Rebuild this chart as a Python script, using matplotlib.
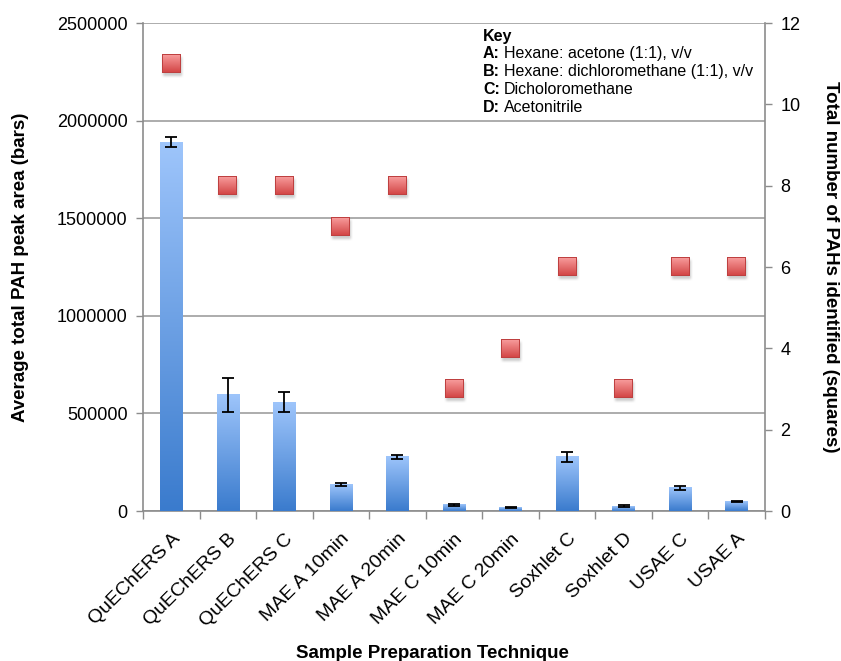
import numpy as np
import matplotlib
matplotlib.use("Agg")
import matplotlib.pyplot as plt
from matplotlib.colors import LinearSegmentedColormap, to_rgb
from matplotlib.offsetbox import OffsetImage, AnnotationBbox

plt.rcParams['font.family'] = ['Liberation Sans', 'DejaVu Sans']

categories = ["QuEChERS A", "QuEChERS B", "QuEChERS C", "MAE A 10min", "MAE A 20min",
              "MAE C 10min", "MAE C 20min", "Soxhlet C", "Soxhlet D", "USAE C", "USAE A"]
peak_area = [1890000, 595000, 558000, 138000, 277000, 31000, 20000, 277000, 25000, 118000, 50000]
peak_err = [25000, 87000, 50000, 8000, 12000, 3000, 3000, 25000, 7000, 10000, 3000]
n_pahs = [11, 8, 8, 7, 8, 3, 4, 6, 3, 6, 6]
left_ticks = [0, 500000, 1000000, 1500000, 2000000, 2500000]
right_ticks = [0, 2, 4, 6, 8, 10, 12]

fig = plt.figure(figsize=(8.41, 6.61), dpi=100)
ax = fig.add_axes([143/841, 1-511/661, (765-143)/841, (511-23)/661])

x = np.arange(len(categories))
w = 0.40
cmap = LinearSegmentedColormap.from_list("bar", ["#3A7BCD", "#9EC5FB"])
grad = np.linspace(0, 1, 256).reshape(-1, 1)
for xi, h in zip(x, peak_area):
    ax.imshow(grad, extent=(xi - w/2, xi + w/2, 0, h), origin='lower', cmap=cmap,
              aspect='auto', zorder=3, interpolation='bilinear')
ax.errorbar(x, peak_area, yerr=peak_err, fmt='none', ecolor='black', elinewidth=1.3,
            capsize=4, capthick=1.3, zorder=4)

ax.set_xlim(-0.5, len(categories) - 0.5)
ax.set_ylim(0, 2500000)
ax.set_yticks(left_ticks)
ax.set_yticklabels([str(t) for t in left_ticks], fontsize=13)
ax.yaxis.grid(True, color='#A6A6A6', linewidth=1.3, zorder=0)
ax.set_axisbelow(True)
ax.set_xticks(x)
ax.set_xticklabels(categories, rotation=45, ha='right', rotation_mode='anchor', fontsize=14)
ax.tick_params(axis='x', length=0, pad=14)
ax.set_xticks(np.arange(-0.5, len(categories), 1), minor=True)
ax.tick_params(axis='x', which='minor', length=6, color='#8C8C8C', width=1)
ax.tick_params(axis='y', length=5, color='#8C8C8C', width=1, pad=6)
for s in ['left', 'bottom', 'right']:
    ax.spines[s].set_color('#8C8C8C')
    ax.spines[s].set_linewidth(1.2)
ax.spines['top'].set_visible(False)

ax.set_ylabel("Average total PAH peak area (bars)", fontsize=13.5, fontweight='bold', labelpad=20)
ax.set_xlabel("Sample Preparation Technique", fontsize=13.5, fontweight='bold', va='center')
ax.xaxis.set_label_coords((432 - 143) / 622, (511 - 653) / 488)

ax2 = ax.twinx()
ax2.set_ylim(0, 12)
ax2.set_yticks(right_ticks)
ax2.set_yticklabels([str(t) for t in right_ticks], fontsize=13)
ax2.tick_params(axis='y', length=5, color='#8C8C8C', width=1, pad=6)
for s in ['left', 'bottom', 'right', 'top']:
    ax2.spines[s].set_visible(False)
ax2.set_ylabel("Total number of PAHs identified (squares)", fontsize=13.5, fontweight='bold',
               rotation=-90, labelpad=28)

# square marker image with vertical gradient, border and soft shadow
S, P = 19, 5
N = S + 2 * P
img = np.zeros((N, N, 4))
shadow = np.zeros((N, N))
shadow[P + 3:P + 3 + S, P + 1:P + 1 + S] = 1.0
k = np.array([1, 2, 3, 2, 1], float); k /= k.sum()
shadow = np.apply_along_axis(lambda r: np.convolve(r, k, mode='same'), 0, shadow)
shadow = np.apply_along_axis(lambda r: np.convolve(r, k, mode='same'), 1, shadow)
img[..., 0:3] = 0.55
img[..., 3] = shadow * 0.45
top = np.array(to_rgb('#F89C9C'))
bot = np.array(to_rgb('#D24444'))
edge = np.array(to_rgb('#BE4040'))
for r in range(S):
    t = r / (S - 1)
    img[P + r, P:P + S, :3] = top * (1 - t) + bot * t
    img[P + r, P:P + S, 3] = 1.0
img[P, P:P + S, :3] = edge
img[P + S - 1, P:P + S, :3] = edge
img[P:P + S, P, :3] = edge
img[P:P + S, P + S - 1, :3] = edge
for xi, n in zip(x, n_pahs):
    ab = AnnotationBbox(OffsetImage(img, zoom=1, dpi_cor=False, interpolation='nearest'),
                        (xi, n), xycoords='data', frameon=False, pad=0, zorder=5)
    ax2.add_artist(ab)

key_lines = [("Key", ""), ("A:", "Hexane: acetone (1:1), v/v"),
             ("B:", "Hexane: dichloromethane (1:1), v/v"),
             ("C:", "Dicholoromethane"), ("D:", "Acetonitrile")]
fig.canvas.draw()
renderer = fig.canvas.get_renderer()
y0 = 36
for i, (b, t) in enumerate(key_lines):
    yy = y0 + i * 17.8
    txt = fig.text(483/841, 1 - yy/661, b, fontsize=11.5, fontweight='bold', va='center')
    if t:
        bb = txt.get_window_extent(renderer)
        fig.text((bb.x1 + 4)/841, 1 - yy/661, t, fontsize=11.5, va='center')

fig.savefig("out.png", dpi=100)
